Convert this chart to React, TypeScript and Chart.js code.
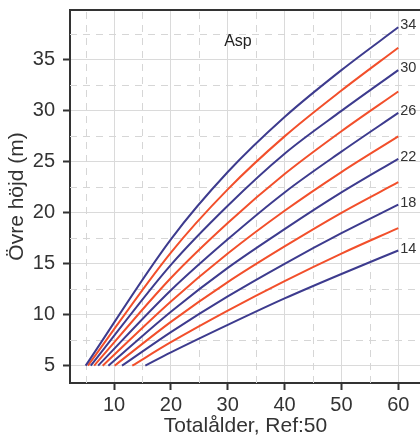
import React, { useEffect, useRef } from "react";
import { Chart, registerables } from "chart.js";

Chart.register(...registerables);

// Site index (Ref: total age 50) of each curve, top to bottom
const siteIndices = [34, 32, 30, 28, 26, 24, 22, 20, 18, 16, 14];
// Total age at which each curve starts (at 5 m)
const startAges = [5.0, 5.4, 5.9, 6.5, 7.2, 8.0, 9.0, 10.1, 11.4, 13.2, 15.5];
const startHeight = 5;
// Heights read at fixed ages
const readAges = [20, 30, 40, 50, 60];
const h20 = [17.4, 16.1, 14.9, 13.6, 12.4, 11.3, 10.3, 9.3, 8.3, 7.3, 6.3];
const h30 = [24.0, 22.3, 20.7, 19.0, 17.4, 16.0, 14.6, 13.2, 11.8, 10.4, 9.0];
const h40 = [29.4, 27.5, 25.8, 23.8, 22.0, 20.2, 18.4, 16.7, 15.0, 13.3, 11.6];
const h50 = [34.0, 32.0, 30.0, 28.0, 26.0, 24.0, 22.0, 20.0, 18.0, 16.0, 14.0];
const h60 = [38.2, 36.2, 34.0, 31.9, 29.8, 27.5, 25.3, 23.0, 20.8, 18.5, 16.3];

const xMinorGrid = [5, 15, 25, 35, 45, 55];
const yMinorGrid = [7.5, 12.5, 17.5, 22.5, 27.5, 32.5, 37.5];

const chartTitle = "Asp";
const xTitle = "Totalålder, Ref:50";
const yTitle = "Övre höjd (m)";

const BLUE = "#3d3b8e";
const RED = "#f24f2b";
const FONT = "'Liberation Sans', Arial, sans-serif";

const overlayPlugin = {
  id: "overlay",
  beforeDatasetsDraw(chart: any) {
    const { ctx, chartArea, scales } = chart;
    const xs = scales.x;
    const ys = scales.y;
    ctx.save();
    ctx.beginPath();
    ctx.rect(chartArea.left, chartArea.top, chartArea.right - chartArea.left, chartArea.bottom - chartArea.top);
    ctx.clip();
    ctx.strokeStyle = "#d6d6d6";
    ctx.lineWidth = 1;
    ctx.setLineDash([7, 6]);
    xMinorGrid.forEach((v) => {
      const px = Math.round(xs.getPixelForValue(v)) + 0.5;
      ctx.beginPath();
      ctx.moveTo(px, chartArea.bottom);
      ctx.lineTo(px, chartArea.top);
      ctx.stroke();
    });
    yMinorGrid.forEach((v) => {
      const py = Math.round(ys.getPixelForValue(v)) + 0.5;
      ctx.beginPath();
      ctx.moveTo(chartArea.left, py);
      ctx.lineTo(chartArea.right, py);
      ctx.stroke();
    });
    ctx.restore();
  },
  afterDatasetsDraw(chart: any) {
    const { ctx, chartArea, scales } = chart;
    const xs = scales.x;
    const ys = scales.y;
    ctx.save();
    // top frame line
    ctx.strokeStyle = "#333";
    ctx.lineWidth = 2;
    ctx.beginPath();
    ctx.moveTo(chartArea.left - 1, chartArea.top);
    ctx.lineTo(chartArea.right + 2, chartArea.top);
    ctx.stroke();
    // chart title inside
    ctx.fillStyle = "#222";
    ctx.font = `16px ${FONT}`;
    ctx.textAlign = "center";
    ctx.textBaseline = "middle";
    ctx.fillText(chartTitle, xs.getPixelForValue(31.8), ys.getPixelForValue(36.8));
    // curve labels
    ctx.font = `14.5px ${FONT}`;
    ctx.textAlign = "left";
    ctx.fillStyle = "#333";
    siteIndices.forEach((si, i) => {
      if (i % 2 !== 0) return;
      const px = xs.getPixelForValue(60) + 2;
      const py = ys.getPixelForValue(h60[i]) - 2;
      ctx.fillText(String(si), px, py);
    });
    ctx.restore();
  },
};

export default function App() {
  const ref = useRef<HTMLCanvasElement>(null);
  useEffect(() => {
    document.body.style.margin = "0";
    const datasets = siteIndices.map((si, i) => {
      const heights = [h20[i], h30[i], h40[i], h50[i], h60[i]];
      const data = [{ x: startAges[i], y: startHeight }].concat(
        readAges.map((a, k) => ({ x: a, y: heights[k] }))
      );
      return {
        label: String(si),
        data,
        borderColor: i % 2 === 0 ? BLUE : RED,
        borderWidth: 2,
        pointRadius: 0,
        fill: false,
        cubicInterpolationMode: "monotone" as const,
      };
    });
    const chart = new Chart(ref.current!, {
      type: "line",
      data: { datasets },
      options: {
        animation: false,
        responsive: false,
        layout: { padding: { top: 10, right: 9, left: 0, bottom: 0 } },
        plugins: { legend: { display: false }, tooltip: { enabled: false } },
        scales: {
          x: {
            type: "linear",
            min: 2.25,
            max: 64,
            afterFit: (scale: any) => {
              scale.height = 56;
              scale.paddingLeft = 0;
              scale.paddingRight = 0;
            },
            ticks: {
              stepSize: 10,
              includeBounds: false,
              font: { family: FONT, size: 20 },
              color: "#333",
              padding: 3,
              maxRotation: 0,
            },
            grid: { color: "#dadada", tickColor: "#333", tickLength: 7, tickWidth: 2 },
            border: { color: "#333", width: 2 },
            title: {
              display: true,
              text: xTitle,
              font: { family: FONT, size: 21 },
              color: "#333",
              padding: { top: 0, bottom: 0 },
            },
          },
          y: {
            type: "linear",
            min: 3.3,
            max: 39.9,
            afterFit: (scale: any) => {
              scale.width = 70;
              scale.paddingTop = 0;
              scale.paddingBottom = 0;
            },
            ticks: {
              stepSize: 5,
              includeBounds: false,
              font: { family: FONT, size: 20 },
              color: "#333",
              padding: 8,
            },
            grid: { color: "#dadada", tickColor: "#333", tickLength: 7, tickWidth: 2 },
            border: { color: "#333", width: 2 },
            title: {
              display: true,
              text: yTitle,
              font: { family: FONT, size: 21 },
              color: "#333",
              padding: { top: 5, bottom: 0 },
            },
          },
        },
      },
      plugins: [overlayPlugin],
    });
    return () => chart.destroy();
  }, []);
  return (
    <div style={{ position: "fixed", left: 0, top: 0, width: 420, height: 439, overflow: "hidden", background: "#fff" }}>
      <canvas ref={ref} width={430} height={439} style={{ width: 430, height: 439, display: "block" }} />
    </div>
  );
}
